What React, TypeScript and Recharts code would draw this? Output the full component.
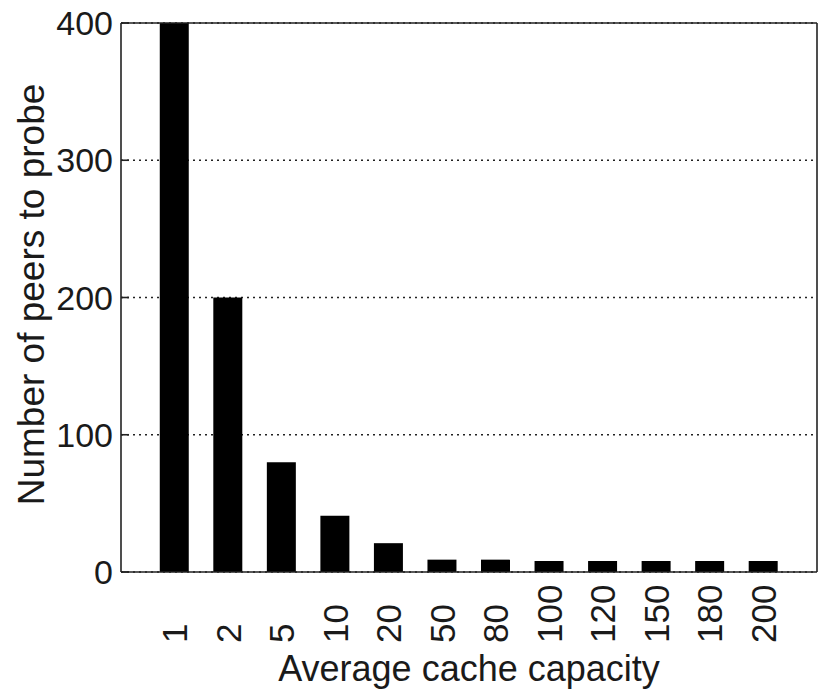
import React from 'react';
import { BarChart, Bar, XAxis, YAxis, CartesianGrid, ReferenceLine } from 'recharts';

const capacities = ['1', '2', '5', '10', '20', '50', '80', '100', '120', '150', '180', '200'];
const peers = [400, 200, 80, 41, 21, 9, 9, 8, 8, 8, 8, 8];
const yTicks = [0, 100, 200, 300, 400];

const data = capacities.map((c, i) => ({ pos: i + 1, label: c, peers: peers[i] }));
const xTicks = data.map((d) => d.pos);

const FONT = '"Liberation Sans", Arial, Helvetica, sans-serif';

const XTick = (props: any) => {
  const { x, y, payload } = props;
  const lbl = capacities[payload.value - 1] ?? '';
  const ty = y + 63;
  return (
    <text
      x={x}
      y={ty}
      transform={`rotate(-90 ${x} ${ty})`}
      textAnchor="start"
      dominantBaseline="central"
      fontSize={35}
      fontFamily={FONT}
      fill="#1a1a1a"
    >
      {lbl}
    </text>
  );
};

export default function App() {
  return (
    <div style={{ position: 'absolute', left: 0, top: 0, width: 819, height: 691, background: '#fff' }}>
      <BarChart width={819} height={691} data={data} margin={{ top: 23, right: 2, bottom: 0, left: 0 }}>
        <CartesianGrid vertical={false} stroke="#222" strokeDasharray="2 4" strokeWidth={1.3} />
        <XAxis
          dataKey="pos"
          type="number"
          domain={[0, 13]}
          ticks={xTicks}
          interval={0}
          height={119}
          tickLine={false}
          axisLine={{ stroke: '#222', strokeWidth: 1.6 }}
          tick={<XTick />}
          label={(p: any) => {
            const vb = p.viewBox;
            return (
              <text
                x={vb.x + vb.width / 2}
                y={vb.y + 109}
                textAnchor="middle"
                fontSize={36}
                fontFamily={FONT}
                fill="#1a1a1a"
              >
                Average cache capacity
              </text>
            );
          }}
        />
        <YAxis
          type="number"
          domain={[0, 400]}
          ticks={yTicks}
          width={121}
          tickSize={-8}
          tickMargin={16}
          tickLine={{ stroke: '#222', strokeWidth: 1.6 }}
          axisLine={{ stroke: '#222', strokeWidth: 1.6 }}
          tick={{ fontSize: 34, fill: '#1a1a1a', fontFamily: FONT }}
          label={(p: any) => {
            const vb = p.viewBox;
            const cx = vb.x + 31;
            const cy = vb.y + vb.height / 2 - 3;
            return (
              <text
                x={cx}
                y={cy}
                transform={`rotate(-90 ${cx} ${cy})`}
                textAnchor="middle"
                dominantBaseline="central"
                fontSize={37}
                fontFamily={FONT}
                fill="#1a1a1a"
              >
                Number of peers to probe
              </text>
            );
          }}
        />
        <ReferenceLine y={400} stroke="#222" strokeWidth={1.6} />
        <ReferenceLine x={13} stroke="#222" strokeWidth={1.6} />
        <Bar dataKey="peers" fill="#000" barSize={29} isAnimationActive={false} />
      </BarChart>
    </div>
  );
}
